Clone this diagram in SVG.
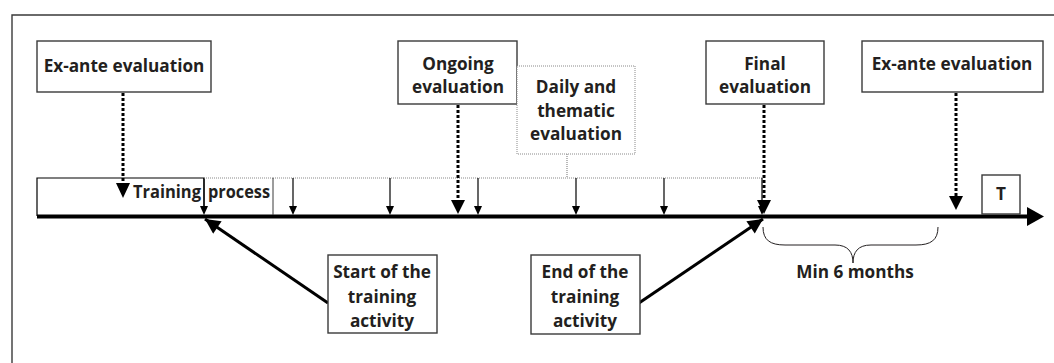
<svg xmlns="http://www.w3.org/2000/svg" width="1054" height="363" viewBox="0 0 1054 363">
<style>
text{font-family:"Open Sans","Noto Sans","Liberation Sans",sans-serif;font-weight:700;font-size:17.2px;fill:#231f20;text-anchor:middle}
.box{fill:#fff;stroke:#3a3a3a;stroke-width:1.4}
.dbox{fill:#fff;stroke:#8a8a8a;stroke-width:1;stroke-dasharray:1 1}
.dot{fill:none;stroke:#000;stroke-width:3;stroke-dasharray:3 2}
.gdot{fill:none;stroke:#8a8a8a;stroke-width:1.2;stroke-dasharray:1 1}
.thin{fill:none;stroke:#000;stroke-width:1.2}
.thick{fill:none;stroke:#000;stroke-width:3}
.head{fill:#000}
</style>
<defs>
<marker id="big" viewBox="0 0 10 10" refX="10" refY="5" markerUnits="userSpaceOnUse" markerWidth="17" markerHeight="15" orient="auto"><path d="M0,0 L10,5 L0,10 z" fill="#000"/></marker>
</defs>
<rect width="1054" height="363" fill="#fff"/>
<g id="frame"><path d="M12,363 L12,15 L1054,15" fill="none" stroke="#3a3a3a" stroke-width="1.4"/></g>

<g id="connectors">
  <line x1="37" y1="216.5" x2="1030" y2="216.5" stroke="#000" stroke-width="4"/>
  <polygon class="head" points="1027,207 1044,216.5 1027,226"/>
  <line class="gdot" x1="273" y1="178" x2="762" y2="178"/>
  <line class="gdot" x1="567" y1="154" x2="567" y2="178"/>
  <g id="ticks">
    <line class="thin" x1="204" y1="178" x2="204" y2="207"/><polygon class="head" points="200,206 208,206 204,215"/>
    <line class="thin" x1="293" y1="178" x2="293" y2="207"/><polygon class="head" points="289,206 297,206 293,215"/>
    <line class="thin" x1="390" y1="178" x2="390" y2="207"/><polygon class="head" points="386,206 394,206 390,215"/>
    <line class="thin" x1="478" y1="178" x2="478" y2="207"/><polygon class="head" points="474,206 482,206 478,215"/>
    <line class="thin" x1="576" y1="178" x2="576" y2="207"/><polygon class="head" points="572,206 580,206 576,215"/>
    <line class="thin" x1="664" y1="178" x2="664" y2="207"/><polygon class="head" points="660,206 668,206 664,215"/>
    <line class="thin" x1="762" y1="178" x2="762" y2="207"/><polygon class="head" points="758,206 766,206 762,215"/>
  </g>
  <line class="dot" x1="123" y1="93" x2="123" y2="184"/><polygon class="head" points="116,183 130,183 123,198"/>
  <line class="dot" x1="458" y1="105" x2="458" y2="201"/><polygon class="head" points="451,200 465,200 458,214"/>
  <line class="dot" x1="764" y1="105" x2="764" y2="201"/><polygon class="head" points="757,200 771,200 764,214"/>
  <line class="dot" x1="956" y1="93" x2="956" y2="197"/><polygon class="head" points="949,196 963,196 956,210"/>
  <line class="thick" x1="328" y1="303" x2="205" y2="219" marker-end="url(#big)"/>
  <line class="thick" x1="639" y1="303" x2="763" y2="219" marker-end="url(#big)"/>
  <path d="M763,227 C763,240 770,245 785,245 L835,245 C848,245 853,252 853,263 C853,252 858,245 871,245 L916,245 C931,245 938,240 938,227" fill="none" stroke="#231f20" stroke-width="1"/>
</g>

<g id="training-process">
  <path d="M37,216 L37,178 L204,178 L204,207" fill="none" stroke="#000" stroke-width="1.2"/>
  <line class="gdot" x1="204" y1="178" x2="273" y2="178"/>
  <line x1="273" y1="178" x2="273" y2="215" stroke="#3a3a3a" stroke-width="1"/>
  <text x="133" y="198" style="text-anchor:start" textLength="68" lengthAdjust="spacingAndGlyphs">Training</text>
  <text x="208" y="198" style="text-anchor:start" textLength="62" lengthAdjust="spacingAndGlyphs">process</text>
</g>

<g id="exante1">
  <rect class="box" x="37" y="41" width="174" height="51"/>
  <text x="124" y="72">Ex-ante evaluation</text>
</g>
<g id="ongoing">
  <rect class="box" x="398" y="41" width="119" height="63"/>
  <text x="458" y="70">Ongoing</text>
  <text x="458" y="93">evaluation</text>
</g>
<g id="daily">
  <rect class="dbox" x="517" y="66" width="118" height="88"/>
  <text x="576" y="93">Daily and</text>
  <text x="576" y="117">thematic</text>
  <text x="576" y="140">evaluation</text>
</g>
<g id="final">
  <rect class="box" x="706" y="41" width="118" height="63"/>
  <text x="765" y="70">Final</text>
  <text x="765" y="93">evaluation</text>
</g>
<g id="exante2">
  <rect class="box" x="862" y="41" width="181" height="51"/>
  <text x="952" y="70">Ex-ante evaluation</text>
</g>
<g id="t">
  <rect class="box" x="982" y="175" width="38" height="39"/>
  <text x="1001" y="200">T</text>
</g>
<g id="start">
  <rect class="box" x="328" y="255" width="109" height="78"/>
  <text x="382" y="278">Start of the</text>
  <text x="382" y="303">training</text>
  <text x="382" y="327">activity</text>
</g>
<g id="end">
  <rect class="box" x="531" y="255" width="109" height="79"/>
  <text x="585" y="278">End of the</text>
  <text x="585" y="303">training</text>
  <text x="585" y="327">activity</text>
</g>
<g id="min6">
  <text x="855" y="278">Min 6 months</text>
</g>
</svg>
